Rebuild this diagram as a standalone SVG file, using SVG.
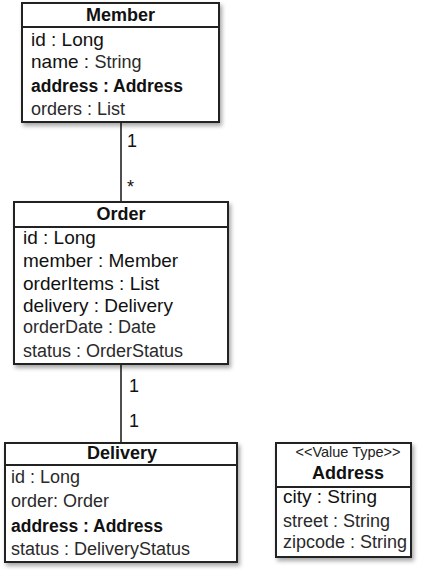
<svg xmlns="http://www.w3.org/2000/svg" width="430" height="570" viewBox="0 0 430 570">
<defs>
<filter id="sh" x="-10%" y="-10%" width="130%" height="130%">
<feDropShadow dx="2" dy="3" stdDeviation="2" flood-color="#000" flood-opacity="0.35"/>
</filter>
<style>
.box{fill:#fff;stroke:#222;stroke-width:2;filter:url(#sh)}
.div{stroke:#222;stroke-width:2}
.t{font-family:"Liberation Sans",Arial,sans-serif;font-weight:bold;font-size:18px;fill:#111;text-anchor:middle}
.a{font-family:"Liberation Sans",Arial,sans-serif;font-size:19px;fill:#111}
.l{font-family:"Liberation Sans",Arial,sans-serif;font-size:18px;fill:#2a2a2a}
.b{font-family:"Liberation Sans",Arial,sans-serif;font-size:17.5px;font-weight:bold;fill:#111}
.s{font-family:"Liberation Sans",Arial,sans-serif;font-size:14.5px;fill:#222;text-anchor:middle}
.c{stroke:#222;stroke-width:1.6;fill:none}
.m{font-family:"Liberation Sans",Arial,sans-serif;font-size:18px;fill:#111}
</style>
</defs>
<g id="connectors">
<line class="c" x1="121" y1="122" x2="121" y2="202"/>
<text class="m" x="127" y="147">1</text>
<text class="m" x="127" y="193" font-size="15">*</text>
<line class="c" x1="121" y1="364" x2="121" y2="443"/>
<text class="m" x="129" y="392">1</text>
<text class="m" x="129" y="427">1</text>
</g>
<g id="member">
<rect class="box" x="22" y="3" width="197" height="119"/>
<line class="div" x1="22" y1="27" x2="219" y2="27"/>
<text class="t" x="120.5" y="21">Member</text>
<text class="a" x="31" y="46">id : Long</text>
<text class="a" x="31" y="68">name : <tspan class="l">String</tspan></text>
<text class="b" x="31" y="92">address : Address</text>
<text class="l" x="31" y="115">orders : List</text>
</g>
<g id="order">
<rect class="box" x="14" y="202" width="214" height="162"/>
<line class="div" x1="14" y1="227" x2="228" y2="227"/>
<text class="t" x="121" y="220">Order</text>
<text class="a" x="23" y="244">id : Long</text>
<text class="a" x="23" y="267">member : Member</text>
<text class="a" x="23" y="290">orderItems : List</text>
<text class="a" x="23" y="312">delivery : Delivery</text>
<text class="l" x="23" y="333">orderDate : Date</text>
<text class="l" x="23" y="357">status : OrderStatus</text>
</g>
<g id="delivery">
<rect class="box" x="5" y="443" width="232" height="119"/>
<line class="div" x1="5" y1="465" x2="237" y2="465"/>
<text class="t" x="122" y="459">Delivery</text>
<text class="l" x="11" y="483">id : Long</text>
<text class="l" x="11" y="507">order: Order</text>
<text class="b" x="11" y="532">address : Address</text>
<text class="l" x="11" y="555">status : DeliveryStatus</text>
</g>
<g id="address">
<rect class="box" x="276" y="443" width="135" height="114"/>
<line class="div" x1="276" y1="487" x2="411" y2="487"/>
<text class="s" x="348" y="457">&lt;&lt;Value Type&gt;&gt;</text>
<text class="t" x="348" y="479" font-size="17.5">Address</text>
<text class="a" x="283" y="503">city : String</text>
<text class="l" x="283" y="527">street : String</text>
<text class="l" x="283" y="548">zipcode : String</text>
</g>
</svg>
